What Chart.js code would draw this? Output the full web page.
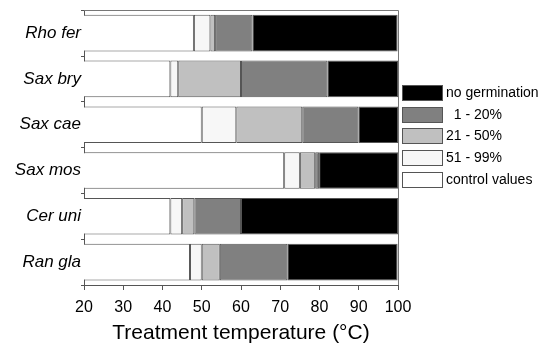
<!DOCTYPE html>
<html>
<head>
<meta charset="utf-8">
<script src="https://cdn.jsdelivr.net/npm/chart.js@4"></script>
<style>
  body { margin: 0; background: #fff; }
  #wrap { width: 542px; height: 346px; }
</style>
</head>
<body>
<div id="wrap"><canvas id="canv" width="542" height="346"></canvas></div>
<script>
var species = ['Rho fer', 'Sax bry', 'Sax cae', 'Sax mos', 'Cer uni', 'Ran gla'];
// control values end point (bars start at the axis minimum, 20 °C)
var controlValues = [48, 42, 50, 71, 42, 47];
// widths of the following segments (°C)
var germ51to99 = [4.2, 2, 8.8, 4, 3, 3];
var germ21to50 = [1.2, 16, 16.8, 3.9, 3.1, 4.6];
var germ1to20 = [9.5, 22, 14.3, 1, 11.9, 17.2];
var noGermination = [37, 18, 10.1, 20.1, 40, 28.1];

var xTicks = [20, 30, 40, 50, 60, 70, 80, 90, 100];

var edge = '#555555';

function ds(label, data, color) {
  return {
    label: label,
    data: data,
    backgroundColor: color,
    borderColor: edge,
    borderWidth: 1,
    borderSkipped: false,
    barPercentage: 0.8,
    categoryPercentage: 1.0
  };
}

// legend drawn by hand on the right, last dataset first
var sideLegend = {
  id: 'sideLegend',
  afterDraw: function(c) {
    var ctx = c.ctx;
    var items = c.data.datasets.slice().reverse();
    ctx.save();
    ctx.font = '14px "Liberation Sans", Arial, sans-serif';
    ctx.textBaseline = 'middle';
    for (var i = 0; i < items.length; i++) {
      var top = Math.round(85 + i * 21.7);
      ctx.fillStyle = items[i].backgroundColor;
      ctx.fillRect(402, top, 40, 15);
      ctx.strokeStyle = edge;
      ctx.lineWidth = 1;
      ctx.strokeRect(402.5, top + 0.5, 40, 15);
      ctx.fillStyle = '#000';
      ctx.fillText(items[i].label, 446, top + 8);
    }
    ctx.restore();
  }
};

// top and right edges of the plot frame
var frame = {
  id: 'frame',
  afterDatasetsDraw: function(c) {
    var a = c.chartArea, ctx = c.ctx;
    ctx.save();
    ctx.strokeStyle = '#777';
    ctx.lineWidth = 1;
    ctx.beginPath();
    ctx.moveTo(a.left, Math.round(a.top) + 0.5);
    ctx.lineTo(Math.round(a.right) + 0.5, Math.round(a.top) + 0.5);
    ctx.lineTo(Math.round(a.right) + 0.5, a.bottom);
    ctx.stroke();
    ctx.restore();
  }
};

chart = new Chart(document.getElementById('canv'), {
  type: 'bar',
  data: {
    labels: species,
    datasets: [
      ds('control values', controlValues, '#ffffff'),
      ds('51 - 99%', germ51to99, '#f7f7f7'),
      ds('21 - 50%', germ21to50, '#c0c0c0'),
      ds('  1 - 20%', germ1to20, '#808080'),
      ds('no germination', noGermination, '#000000')
    ]
  },
  options: {
    responsive: false,
    animation: false,
    indexAxis: 'y',
    layout: { padding: { top: 6, right: 144, left: 0, bottom: 0 } },
    plugins: {
      legend: { display: false },
      tooltip: { enabled: false }
    },
    scales: {
      x: {
        stacked: true,
        min: 20,
        max: 100,
        afterBuildTicks: function(s) { s.ticks = xTicks.map(function(v) { return { value: v }; }); },
        afterFit: function(s) { s.height = 61; },
        grid: { drawOnChartArea: false, tickLength: 5, color: '#555' },
        border: { color: '#555' },
        ticks: {
          color: '#000',
          padding: 8,
          font: { family: '"Liberation Sans", Arial, sans-serif', size: 16 }
        },
        title: {
          display: true,
          text: 'Treatment temperature (°C)',
          color: '#000',
          padding: { top: 0, bottom: 0 },
          font: { family: '"Liberation Sans", Arial, sans-serif', size: 21 }
        }
      },
      y: {
        stacked: true,
        afterFit: function(s) { s.width = 84; },
        grid: { drawOnChartArea: false, tickLength: 3, color: '#555', offset: true },
        border: { color: '#555' },
        ticks: {
          color: '#000',
          padding: 0,
          font: { family: '"Liberation Sans", Arial, sans-serif', size: 17, style: 'italic' }
        }
      }
    }
  },
  plugins: [sideLegend, frame]
});
</script>
</body>
</html>
